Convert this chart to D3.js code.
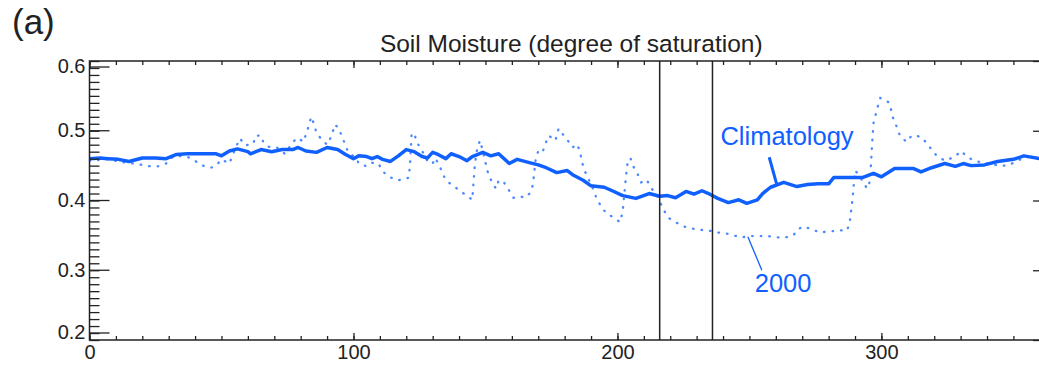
<!DOCTYPE html>
<html>
<head>
<meta charset="utf-8">
<script src="https://cdn.jsdelivr.net/npm/d3@7"></script>
<style>
  body { margin: 0; background: #fff; }
  svg { display: block; font-family: "Liberation Sans", Arial, sans-serif; }
</style>
</head>
<body>
<svg id="chart" width="1039" height="367"></svg>
<script>
// day of year / degree of saturation
var climDays = [0,4,7,11,15,20,25,29,33,37,42,48,50,53,56,60,61,65,69,73,77,79,82,86,90,94,97,100,102,105,107,109,111,114,117,120,123,126,128,130,132,135,137,140,143,145,149,152,155,159,162,167,170,173,177,181,183,187,190,195,198,202,207,212,216,219,222,226,229,232,235,238,242,246,249,253,255,258,263,268,272,276,280,282,287,293,297,300,305,309,312,315,319,324,328,331,334,339,344,350,354,360,365];
var climVals = [0.46,0.461,0.46,0.459,0.456,0.461,0.461,0.46,0.466,0.467,0.467,0.467,0.464,0.471,0.474,0.47,0.467,0.473,0.47,0.473,0.473,0.476,0.471,0.469,0.476,0.473,0.466,0.46,0.464,0.463,0.46,0.463,0.459,0.456,0.464,0.473,0.47,0.463,0.461,0.469,0.466,0.46,0.467,0.463,0.457,0.463,0.469,0.464,0.467,0.453,0.459,0.454,0.451,0.447,0.44,0.443,0.437,0.429,0.421,0.419,0.414,0.407,0.403,0.41,0.406,0.407,0.404,0.413,0.409,0.414,0.409,0.403,0.397,0.401,0.396,0.401,0.41,0.419,0.426,0.42,0.423,0.424,0.424,0.433,0.433,0.433,0.439,0.434,0.446,0.446,0.446,0.441,0.447,0.453,0.449,0.453,0.45,0.451,0.456,0.459,0.464,0.46,0.459];

var y2000Days = [0,7,14,17,20,23,26,29,32,37,40,42,46,48,50,53,54,56,57,59,62,63,65,66,68,71,74,77,79,81,82.5,84,85,86,88,90,91,92,93,94.5,95.5,97,98,101,102,105,107,109.5,111,113.5,116.5,119,121,121.5,122,123,124,125.7,127,128.5,130,131,133,134,136,138.6,140.5,143,145,146,147,148,149.6,151,152.5,154,155,157,158.7,160.6,163,165,167,168,169,170,171.6,172.7,174,176.5,177.7,179.5,181,183,184.5,185.6,187,188,190.5,192,194,196,198.5,201,202,203.4,204,205,206,207.5,209,211,213,215,217.5,219,222,225,228,231,234.5,238,241,244,247,250,254,257,260.6,263.6,266.7,268,270.5,274,277,280,283,286,287,288,289,290,291,293,294.6,295.5,296,296.6,297,298.5,299.6,301.5,303,304.5,306,307,309.5,311,312,315,317,319,321,324,328,330,332.5,335,339,344.7,348,352,356,360,365];
var y2000Vals = [0.457,0.459,0.454,0.453,0.451,0.449,0.449,0.453,0.464,0.463,0.457,0.451,0.447,0.45,0.459,0.453,0.463,0.481,0.489,0.479,0.481,0.493,0.493,0.482,0.477,0.476,0.467,0.484,0.49,0.484,0.5,0.52,0.51,0.497,0.487,0.48,0.487,0.497,0.509,0.503,0.493,0.479,0.469,0.461,0.453,0.449,0.454,0.453,0.442,0.434,0.429,0.43,0.433,0.457,0.494,0.497,0.483,0.474,0.463,0.454,0.453,0.461,0.446,0.436,0.426,0.419,0.413,0.407,0.401,0.453,0.477,0.486,0.461,0.439,0.426,0.417,0.429,0.426,0.416,0.404,0.406,0.404,0.411,0.423,0.459,0.471,0.469,0.481,0.493,0.486,0.503,0.494,0.487,0.476,0.481,0.473,0.449,0.439,0.419,0.404,0.39,0.381,0.376,0.369,0.385,0.441,0.459,0.46,0.449,0.439,0.426,0.43,0.417,0.407,0.387,0.376,0.369,0.363,0.36,0.358,0.357,0.354,0.353,0.35,0.347,0.349,0.349,0.349,0.347,0.347,0.35,0.358,0.363,0.358,0.354,0.356,0.356,0.358,0.357,0.369,0.4,0.443,0.439,0.427,0.417,0.426,0.45,0.489,0.511,0.533,0.547,0.544,0.54,0.517,0.504,0.493,0.484,0.491,0.494,0.491,0.483,0.473,0.464,0.457,0.463,0.471,0.463,0.457,0.454,0.45,0.45,0.458,0.463,0.46,0.459];

var periodDays = [216, 236];          // vertical marker lines
var xTickLabels = [0, 100, 200, 300];
var yTickLabels = [0.2, 0.3, 0.4, 0.5, 0.6];

var blue = "#1060ff";
var ink = "#222";

var svg = d3.select("#chart");

var x = d3.scaleLinear().domain([0, 365]).range([89.5, 1053]);
var y = d3.scaleLinear().domain([0.2, 0.6]).range([340, 61]);

var x0 = x(0), x1 = x(365), yTop = y(0.6), yBot = y(0.2);

svg.append("defs").append("clipPath").attr("id", "plot")
  .append("rect").attr("x", x0).attr("y", yTop).attr("width", x1 - x0).attr("height", yBot - yTop);

// series
var clim = climDays.map(function(d, i) { return [d, climVals[i]]; });
var yr = y2000Days.map(function(d, i) { return [d, y2000Vals[i]]; });

var line = d3.line()
  .x(function(d) { return x(d[0]); })
  .y(function(d) { return y(d[1]); });

var g = svg.append("g").attr("clip-path", "url(#plot)");

g.append("path").datum(yr)
  .attr("d", line)
  .attr("fill", "none")
  .attr("stroke", blue)
  .attr("stroke-opacity", 0.75)
  .attr("stroke-width", 2.3)
  .attr("stroke-linecap", "round")
  .attr("stroke-dasharray", "0.6 8");

g.append("path").datum(clim)
  .attr("d", line)
  .attr("fill", "none")
  .attr("stroke", blue)
  .attr("stroke-width", 3.5)
  .attr("stroke-linejoin", "round");

// vertical period markers
svg.selectAll(".period").data(periodDays).enter().append("line")
  .attr("class", "period")
  .attr("x1", function(d) { return x(d); }).attr("x2", function(d) { return x(d); })
  .attr("y1", yTop).attr("y2", yBot)
  .attr("stroke", ink).attr("stroke-width", 1.5);

// axes: ticks drawn inward like the original
var xMinor = d3.range(0, 366, 10);
var yMinor = d3.range(20, 61).map(function(v) { return v / 100; });

function styleAxis(sel) {
  sel.select(".domain").remove();
  sel.selectAll("line").attr("stroke", ink).attr("stroke-width", 1.3);
  sel.selectAll("text").attr("fill", ink).style("font-size", "20px").style("font-family", "'Liberation Sans', Arial, sans-serif");
}

svg.append("g").attr("transform", "translate(0," + yBot + ")")
  .call(d3.axisBottom(x).tickValues(xMinor).tickSize(-4).tickFormat(""))
  .call(styleAxis);
svg.append("g").attr("transform", "translate(0," + yBot + ")")
  .call(d3.axisBottom(x).tickValues(xTickLabels).tickSize(-7).tickPadding(5).tickFormat(d3.format("d")))
  .call(styleAxis);

svg.append("g").attr("transform", "translate(0," + yTop + ")")
  .call(d3.axisTop(x).tickValues(xMinor).tickSize(-4).tickFormat(""))
  .call(styleAxis);
svg.append("g").attr("transform", "translate(0," + yTop + ")")
  .call(d3.axisTop(x).tickValues(xTickLabels).tickSize(-7).tickFormat(""))
  .call(styleAxis);

svg.append("g").attr("transform", "translate(" + x0 + ",0)")
  .call(d3.axisLeft(y).tickValues(yMinor).tickSize(-10).tickFormat(""))
  .call(styleAxis);
var yLab = svg.append("g").attr("transform", "translate(" + x0 + ",0)")
  .call(d3.axisLeft(y).tickValues(yTickLabels).tickSize(-20).tickPadding(4).tickFormat(d3.format(".1f")))
  .call(styleAxis);
// keep end labels inside the frame
yLab.selectAll(".tick").attr("transform", function(d) {
  var p = Math.max(yTop + 6, Math.min(yBot - 7, y(d)));
  return "translate(0," + p + ")";
});

svg.append("g").attr("transform", "translate(" + x1 + ",0)")
  .call(d3.axisRight(y).tickValues(yMinor).tickSize(-10).tickFormat(""))
  .call(styleAxis);
svg.append("g").attr("transform", "translate(" + x1 + ",0)")
  .call(d3.axisRight(y).tickValues(yTickLabels).tickSize(-20).tickFormat(""))
  .call(styleAxis);

svg.append("rect")
  .attr("x", x0).attr("y", yTop).attr("width", x1 - x0).attr("height", yBot - yTop)
  .attr("fill", "none").attr("stroke", ink).attr("stroke-width", 1.5);

// annotations
svg.append("line")
  .attr("x1", x(257.5)).attr("y1", y(0.462))
  .attr("x2", x(260.5)).attr("y2", y(0.421))
  .attr("stroke", blue).attr("stroke-width", 3);
svg.append("text")
  .attr("x", x(239)).attr("y", y(0.48))
  .attr("fill", blue).style("font-size", "25.5px")
  .text("Climatology");

svg.append("line")
  .attr("x1", x(249.4)).attr("y1", y(0.348))
  .attr("x2", x(254.7)).attr("y2", y(0.3))
  .attr("stroke", blue).attr("stroke-width", 1.3);
svg.append("text")
  .attr("x", x(252)).attr("y", y(0.269))
  .attr("fill", blue).style("font-size", "25.5px")
  .text("2000");

// titles
svg.append("text")
  .attr("x", (x0 + 1053) / 2).attr("y", 52)
  .attr("text-anchor", "middle")
  .attr("fill", ink).style("font-size", "24.5px")
  .text("Soil Moisture (degree of saturation)");

svg.append("text")
  .attr("x", 12).attr("y", 34)
  .attr("fill", ink).style("font-size", "35px")
  .text("(a)");
</script>
</body>
</html>
